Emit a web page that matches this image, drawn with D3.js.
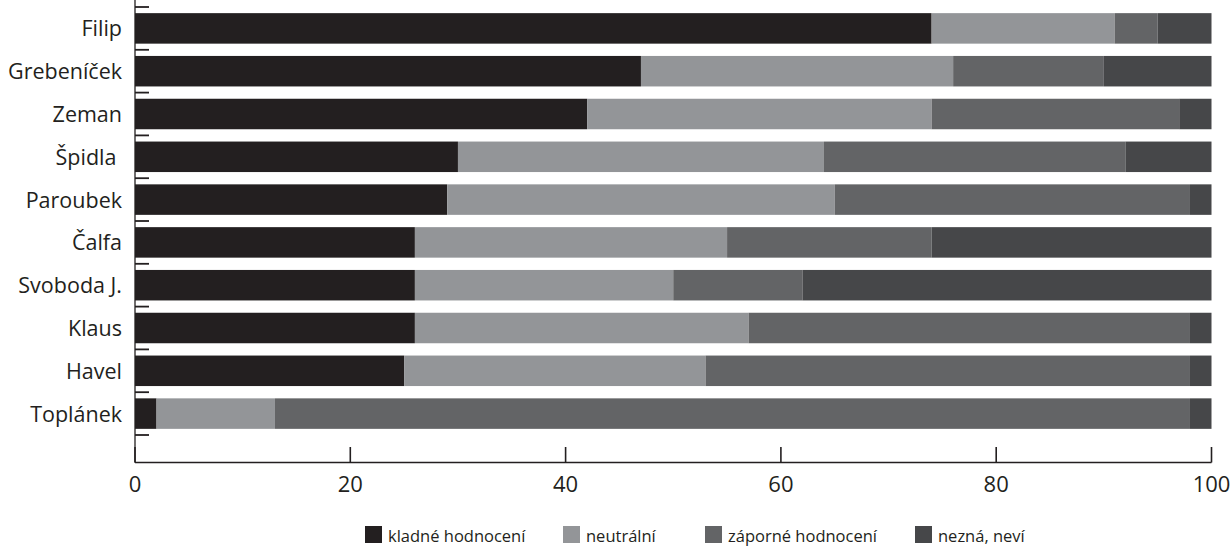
<!DOCTYPE html>
<html><head><meta charset="utf-8">
<script src="https://cdn.jsdelivr.net/npm/d3@7"></script>
<style>
html,body{margin:0;padding:0;background:#fff;}
svg{display:block;font-family:"Open Sans",sans-serif;}
</style></head>
<body><svg id="c" width="1232" height="547"></svg>
<script>
const categories = ["Filip","Grebeníček","Zeman","Špidla ","Paroubek","Čalfa","Svoboda J.","Klaus","Havel","Toplánek"];
const seriesNames = ["kladné hodnocení","neutrální","záporné hodnocení","nezná, neví"];
const kladne   = [74,47,42,30,29,26,26,26,25,2];
const neutralni= [17,29,32,34,36,29,24,31,28,11];
const zaporne  = [4,14,23,28,33,19,12,41,45,85];
const nezna    = [5,10,3,8,2,26,38,2,2,2];
const xTicks = [0,20,40,60,80,100];
const colors = ["#231f20","#939598","#636466","#464749"];

const svg = d3.select("#c");
const x = d3.scaleLinear().domain([0,100]).range([135,1211.5]);
const y = d3.scaleBand().domain(categories).range([7,435]).padding(0);
const bh = 30.5;
const ink = "#231f20";

const rows = categories.map((c,i)=>({cat:c,kladne:kladne[i],neutralni:neutralni[i],zaporne:zaporne[i],nezna:nezna[i]}));
const keys = ["kladne","neutralni","zaporne","nezna"];
const stack = d3.stack().keys(keys)(rows);

svg.append("g").selectAll("g").data(stack).join("g")
  .attr("fill",(d,i)=>colors[i])
  .selectAll("rect").data(d=>d).join("rect")
  .attr("x",d=>x(d[0]))
  .attr("width",d=>x(d[1])-x(d[0]))
  .attr("y",d=>y(d.data.cat)+(y.step()-bh)/2)
  .attr("height",bh);

// y axis line
svg.append("line").attr("x1",x(0)).attr("x2",x(0)).attr("y1",0).attr("y2",462.5)
  .attr("stroke",ink).attr("stroke-width",1.3);
// y ticks at band boundaries
const bounds = categories.map(c=>y(c)).concat([y.range()[1]]);
svg.append("g").selectAll("line").data(bounds).join("line")
  .attr("x1",x(0)).attr("x2",x(0)+14).attr("y1",d=>d).attr("y2",d=>d)
  .attr("stroke",ink).attr("stroke-width",1.8);
// y labels
svg.append("g").selectAll("text").data(categories).join("text")
  .attr("x",122).attr("y",d=>y(d)+y.bandwidth()/2+8)
  .attr("text-anchor","end").attr("font-size",21.5).attr("fill",ink)
  .style("white-space","pre").text(d=>d);

// x axis
svg.append("line").attr("x1",x(0)).attr("x2",x(100)).attr("y1",462.5).attr("y2",462.5)
  .attr("stroke",ink).attr("stroke-width",1.6);
svg.append("g").selectAll("line").data(xTicks).join("line")
  .attr("x1",d=>x(d)).attr("x2",d=>x(d)).attr("y1",462.5).attr("y2",447)
  .attr("stroke",ink).attr("stroke-width",1.6);
svg.append("g").selectAll("text").data(xTicks).join("text")
  .attr("x",d=>x(d)).attr("y",492).attr("text-anchor","middle")
  .attr("font-size",22).attr("fill",ink).text(d=>d);

// legend
const legX = [365,563,705,915];
const lg = svg.append("g").selectAll("g").data(seriesNames).join("g")
  .attr("transform",(d,i)=>`translate(${legX[i]},0)`);
lg.append("rect").attr("x",0).attr("y",526).attr("width",17).attr("height",17).attr("fill",(d,i)=>colors[i]);
lg.append("text").attr("x",23).attr("y",542).attr("font-size",16.5).attr("fill",ink).text(d=>d);
</script></body></html>
